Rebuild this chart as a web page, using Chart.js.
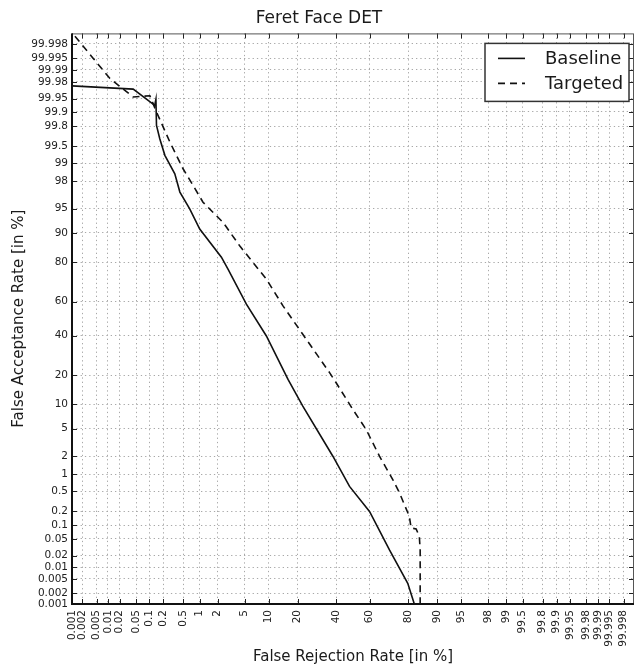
<!DOCTYPE html>
<html>
<head>
<meta charset="utf-8">
<script src="https://cdn.jsdelivr.net/npm/chart.js@4.4.1/dist/chart.umd.min.js"></script>
<style>
  html, body { margin: 0; padding: 0; background: #fff; }
</style>
</head>
<body>
<canvas id="det" width="638" height="666"></canvas>
<script>
// axis limits and ticks, in percent
const axisMinPct = 0.001;
const axisMaxPct = 99.999;
const tickPct = [0.001, 0.002, 0.005, 0.01, 0.02, 0.05, 0.1, 0.2, 0.5, 1, 2, 5, 10, 20, 40, 60, 80,
  90, 95, 98, 99, 99.5, 99.8, 99.9, 99.95, 99.98, 99.99, 99.995, 99.998];
const tickLabels = ["0.001", "0.002", "0.005", "0.01", "0.02", "0.05", "0.1", "0.2", "0.5", "1", "2", "5",
  "10", "20", "40", "60", "80", "90", "95", "98", "99", "99.5", "99.8", "99.9", "99.95", "99.98",
  "99.99", "99.995", "99.998"];

// Baseline: false rejection (x) / false acceptance (y), percent
const frrBaseline = [0.001, 0.0425, 0.131, 0.139, 0.143, 0.168, 0.215, 0.342, 0.43, 0.66, 1.0, 2.29,
  2.89, 5.28, 9.43, 16.2, 22.3, 38.0, 47.9, 59.9, 71.0, 79.7, 82.4];
const farBaseline = [99.975, 99.970, 99.929, 99.948, 99.807, 99.643, 99.27, 98.48, 97.08, 94.97, 91.0, 82.1,
  77.1, 58.6, 39.8, 18.2, 9.56, 1.99, 0.609, 0.198, 0.0274, 0.00383, 0.001];

// Targeted
const frrTargeted = [0.00122, 0.00404, 0.01125, 0.0425, 0.1025, 0.143, 0.272, 0.495, 0.761, 1.14, 2.43,
  4.27, 9.43, 14.4, 22.3, 36.1, 39.9, 49.9, 57.9, 65.6, 72.7, 76.0, 80.4, 81.1, 83.1, 84.3, 84.6, 84.6];
const farTargeted = [99.9988, 99.995, 99.9835, 99.954, 99.957, 99.900, 99.588, 98.75, 97.68, 95.92, 92.5,
  86.2, 72.3, 57.6, 40.8, 21.0, 16.9, 8.74, 4.88, 1.99, 0.807, 0.458, 0.155, 0.0874, 0.084, 0.0565, 0.0274, 0.001];

// inverse normal CDF (Acklam) -> normal deviate axis
function probit(p) {
  const a = [-3.969683028665376e+01, 2.209460984245205e+02, -2.759285104469687e+02, 1.383577518672690e+02, -3.066479806614716e+01, 2.506628277459239e+00];
  const b = [-5.447609879822406e+01, 1.615858368580409e+02, -1.556989798598866e+02, 6.680131188771972e+01, -1.328068155288572e+01];
  const c = [-7.784894002430293e-03, -3.223964580411365e-01, -2.400758277161838e+00, -2.549671888250188e+00, 4.374664141464968e+00, 2.938163982698783e+00];
  const d = [7.784695709041462e-03, 3.224671290700398e-01, 2.445134137142996e+00, 3.754408661907416e+00];
  const pl = 0.02425;
  if (p < pl) {
    const q = Math.sqrt(-2 * Math.log(p));
    return (((((c[0] * q + c[1]) * q + c[2]) * q + c[3]) * q + c[4]) * q + c[5]) / ((((d[0] * q + d[1]) * q + d[2]) * q + d[3]) * q + 1);
  }
  if (p > 1 - pl) {
    const q = Math.sqrt(-2 * Math.log(1 - p));
    return -(((((c[0] * q + c[1]) * q + c[2]) * q + c[3]) * q + c[4]) * q + c[5]) / ((((d[0] * q + d[1]) * q + d[2]) * q + d[3]) * q + 1);
  }
  const q = p - 0.5, r = q * q;
  return (((((a[0] * r + a[1]) * r + a[2]) * r + a[3]) * r + a[4]) * r + a[5]) * q / (((((b[0] * r + b[1]) * r + b[2]) * r + b[3]) * r + b[4]) * r + 1);
}

const toPoints = (xs, ys) => xs.map((v, i) => ({ x: probit(v / 100), y: probit(ys[i] / 100) }));

const fontFam = "'DejaVu Sans', sans-serif";
const ink = "#1a1a1a";

function axis(titleText, horizontal) {
  return {
    type: "linear",
    min: probit(axisMinPct / 100),
    max: probit(axisMaxPct / 100),
    afterBuildTicks: (s) => { s.ticks = tickPct.map((v) => ({ value: probit(v / 100) })); },
    afterFit: (s) => {
      if (horizontal) {
        s.height = 62;
        s.paddingLeft = 0;
        s.paddingRight = 4;
      } else {
        s.width = 72;
      }
    },
    ticks: {
      autoSkip: false,
      color: "#222",
      font: { family: fontFam, size: 10.5 },
      padding: horizontal ? 6 : 4,
      minRotation: horizontal ? 90 : 0,
      maxRotation: horizontal ? 90 : 0,
      callback: (v, i) => tickLabels[i],
    },
    grid: { color: "#a8a8a8", lineWidth: 1, drawTicks: false },
    border: { display: false, dash: [1.3, 3] },
    title: {
      display: true,
      text: titleText,
      color: ink,
      font: { family: fontFam, size: 15 },
      padding: horizontal ? { top: 0, bottom: 0 } : { top: 10, bottom: 0 },
    },
  };
}

// frame, inward tick marks and boxed legend
const detFrame = {
  id: "detFrame",
  afterDatasetsDraw(chart) {
    const { ctx, chartArea: a, scales } = chart;
    const sx = scales.x, sy = scales.y;
    ctx.save();
    ctx.strokeStyle = "#222";
    ctx.lineWidth = 1;
    ctx.beginPath();
    sx.ticks.forEach((t) => {
      const px = Math.round(sx.getPixelForValue(t.value)) + 0.5;
      ctx.moveTo(px, a.bottom); ctx.lineTo(px, a.bottom - 5);
      ctx.moveTo(px, a.top); ctx.lineTo(px, a.top + 5);
    });
    sy.ticks.forEach((t) => {
      const py = Math.round(sy.getPixelForValue(t.value)) + 0.5;
      ctx.moveTo(a.left, py); ctx.lineTo(a.left + 5, py);
      ctx.moveTo(a.right, py); ctx.lineTo(a.right - 5, py);
    });
    ctx.stroke();

    ctx.strokeStyle = "#555";
    ctx.lineWidth = 1;
    ctx.strokeRect(a.left, a.top + 0.5, a.width - 0.5, a.height);
    ctx.strokeStyle = "#111";
    ctx.lineWidth = 2;
    ctx.beginPath();
    ctx.moveTo(a.left, a.top);
    ctx.lineTo(a.left, a.bottom);
    ctx.lineTo(a.right, a.bottom);
    ctx.stroke();

    // legend
    const bw = 144, bh = 58;
    const bx = a.right - bw - 5, by = a.top + 10;
    ctx.fillStyle = "#fff";
    ctx.fillRect(bx, by, bw, bh);
    ctx.strokeStyle = "#333";
    ctx.lineWidth = 1.5;
    ctx.strokeRect(bx, by, bw, bh);
    chart.data.datasets.forEach((ds, i) => {
      const ly = by + 15 + i * 25;
      ctx.strokeStyle = ds.borderColor;
      ctx.lineWidth = ds.borderWidth;
      ctx.setLineDash(ds.borderDash || []);
      ctx.beginPath();
      ctx.moveTo(bx + 13, ly);
      ctx.lineTo(bx + 40, ly);
      ctx.stroke();
      ctx.setLineDash([]);
      ctx.fillStyle = ink;
      ctx.font = "18px " + fontFam;
      ctx.textBaseline = "middle";
      ctx.fillText(ds.label, bx + 60, ly + 1);
    });
    ctx.restore();
  },
};

new Chart(document.getElementById("det"), {
  type: "scatter",
  data: {
    datasets: [
      {
        label: "Baseline",
        data: toPoints(frrBaseline, farBaseline),
        showLine: true,
        borderColor: "#111",
        borderWidth: 1.6,
        pointRadius: 0,
        tension: 0,
      },
      {
        label: "Targeted",
        data: toPoints(frrTargeted, farTargeted),
        showLine: true,
        borderColor: "#111",
        borderWidth: 1.6,
        borderDash: [7, 5],
        pointRadius: 0,
        tension: 0,
      },
    ],
  },
  options: {
    responsive: false,
    animation: false,
    layout: { padding: { left: 0, right: 0, top: 0, bottom: 0 } },
    plugins: {
      legend: { display: false },
      tooltip: { enabled: false },
      title: {
        display: true,
        text: "Feret Face DET",
        color: ink,
        font: { family: fontFam, size: 17, weight: "normal" },
        padding: { top: 8, bottom: 5 },
      },
    },
    scales: {
      x: axis("False Rejection Rate [in %]", true),
      y: axis("False Acceptance Rate [in %]", false),
    },
  },
  plugins: [detFrame],
});
</script>
</body>
</html>
